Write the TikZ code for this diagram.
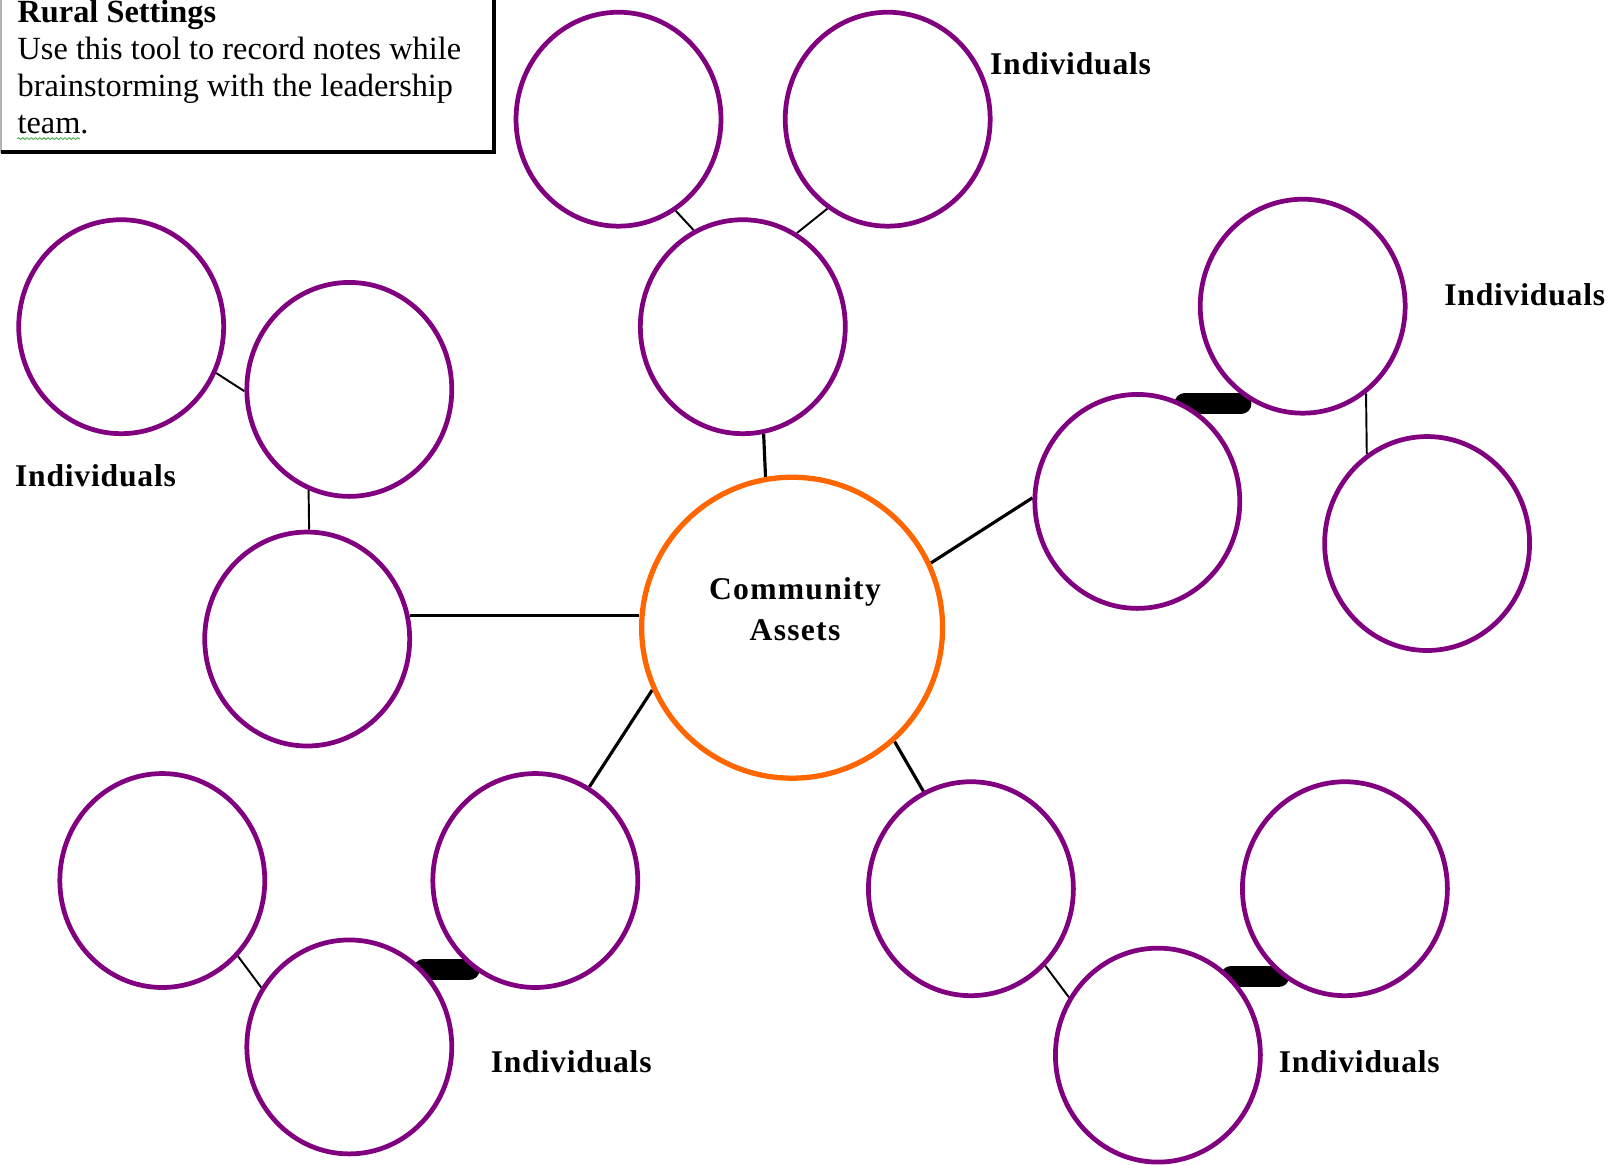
\documentclass[tikz,border=0pt]{standalone}
\usepackage{fontspec}
\setmainfont{Liberation Serif}
\usetikzlibrary{positioning,shapes.geometric,backgrounds,decorations.pathmorphing}

\definecolor{ringpurple}{RGB}{128,0,128}
\definecolor{huborange}{RGB}{255,102,0}
\definecolor{spellgreen}{RGB}{70,170,70}

\tikzset{
  idea/.style={ellipse, draw=ringpurple, line width=2.7pt, fill=white,
    minimum width=4.1cm, minimum height=4.28cm, inner sep=0pt},
  hub/.style={circle, draw=huborange, line width=3pt, fill=white,
    minimum size=6.02cm, inner sep=0pt},
  link/.style={line width=1.1pt},
  spoke/.style={line width=1.8pt},
  bar/.style={line width=12pt, line cap=round},
  who/.style={font=\fontsize{18}{21}\selectfont\bfseries\addfontfeature{LetterSpace=2.5}},
  noteline/.style={anchor=base west, inner sep=0pt, font=\fontsize{18.4}{21}\selectfont},
}

\begin{document}
\begin{tikzpicture}[x=0.02cm, y=-0.02cm]
            \useasboundingbox (0,0) rectangle (1611,1164);

            % notes box
            \draw[gray!60, line width=0.6pt] (1,-6) rectangle (494,152);
            \draw[line width=2.4pt] (494,-6) -- (494,152) -- (1,152);
            \node [noteline, font=\fontsize{18.4}{21}\selectfont\bfseries] (rural) at (17.3,22.7) {Rural Settings};
            \node [noteline] (use) at (17.3,59.3) {Use this tool to record notes while};
            \node [noteline] (brain) at (17.3,96.7) {brainstorming with the leadership};
            \node [noteline] (team) at (17.3,133.3) {team.};
            \draw [spellgreen, line width=0.5pt, decorate,
                   decoration={snake, amplitude=0.5pt, segment length=2.4pt}]
                ([yshift=-3pt]team.base west) -- ([yshift=-3pt, xshift=-5pt]team.base east);

            % hub
            \node [hub] (hub) at (792.1,627.7) {};
            \node [align=center, font=\fontsize{18}{23.5}\selectfont\bfseries\addfontfeature{LetterSpace=4}] (assets) at (795,609) {Community\\Assets};

            % top group
            \node [idea] (c1) at (618.5,119.2) {};
            \node [idea] (c2) at (887.7,119.2) {};
            \node [idea] (c3) at (742.8,326.7) {};
            % left group
            \node [idea] (c4) at (121.2,326.7) {};
            \node [idea] (c5) at (349.3,389.4) {};
            \node [idea] (c6) at (307.2,639.0) {};
            % right group
            \node [idea] (c7) at (1302.7,306.2) {};
            \node [idea] (c8) at (1137.3,501.4) {};
            \node [idea] (c9) at (1427.1,543.5) {};
            % bottom left group
            \node [idea] (c10) at (162.3,880.5) {};
            \node [idea] (c11) at (535.3,880.5) {};
            \node [idea] (c12) at (349.3,1046.9) {};
            % bottom right group
            \node [idea] (c13) at (970.9,888.7) {};
            \node [idea] (c14) at (1344.9,888.7) {};
            \node [idea] (c15) at (1157.9,1055.1) {};

            \node [who] (w1) at (1070.6,63.7) {Individuals};
            \node [who] (w2) at (1524.7,294.9) {Individuals};
            \node [who] (w3) at (95.5,475.7) {Individuals};
            \node [who] (w4) at (571.2,1061.3) {Individuals};
            \node [who] (w5) at (1359.3,1061.3) {Individuals};

            \begin{scope}[on background layer]
                \draw [spoke] (c3.-79) -- (hub.100.4);
                \draw [spoke] (c6.13.5) -- (c6.13.5 -| hub.west);
                \draw [spoke] (hub.25.9) -- (c8.178.3);
                \draw [spoke] (hub.204.2) -- (c11.60.9);
                \draw [spoke] (hub.-48.1) -- (c13.116.1);

                \draw [link] (c1.-58.8) -- (c3.117.6);
                \draw [link] (c2.-124.1) -- (c3.60.2);
                \draw [link] (c4.-26.3) -- (c5.181.3);
                \draw [link] (c5.-112.1) -- (c6.89.7);
                \draw [link] (c7.-54.5) -- (c9.124.1);
                \draw [link] (c10.-45.7) -- (c12.146.9);
                \draw [link] (c13.-46.1) -- (c15.147.4);

                \draw [bar] (c8.64) -- (c8.64 -| c7.235);
                \draw [bar] (c12.46) -- (c12.46 -| c11.232);
                \draw [bar] (c15.47) -- (c15.47 -| c14.232);
            \end{scope}
        \end{tikzpicture}
\end{document}
